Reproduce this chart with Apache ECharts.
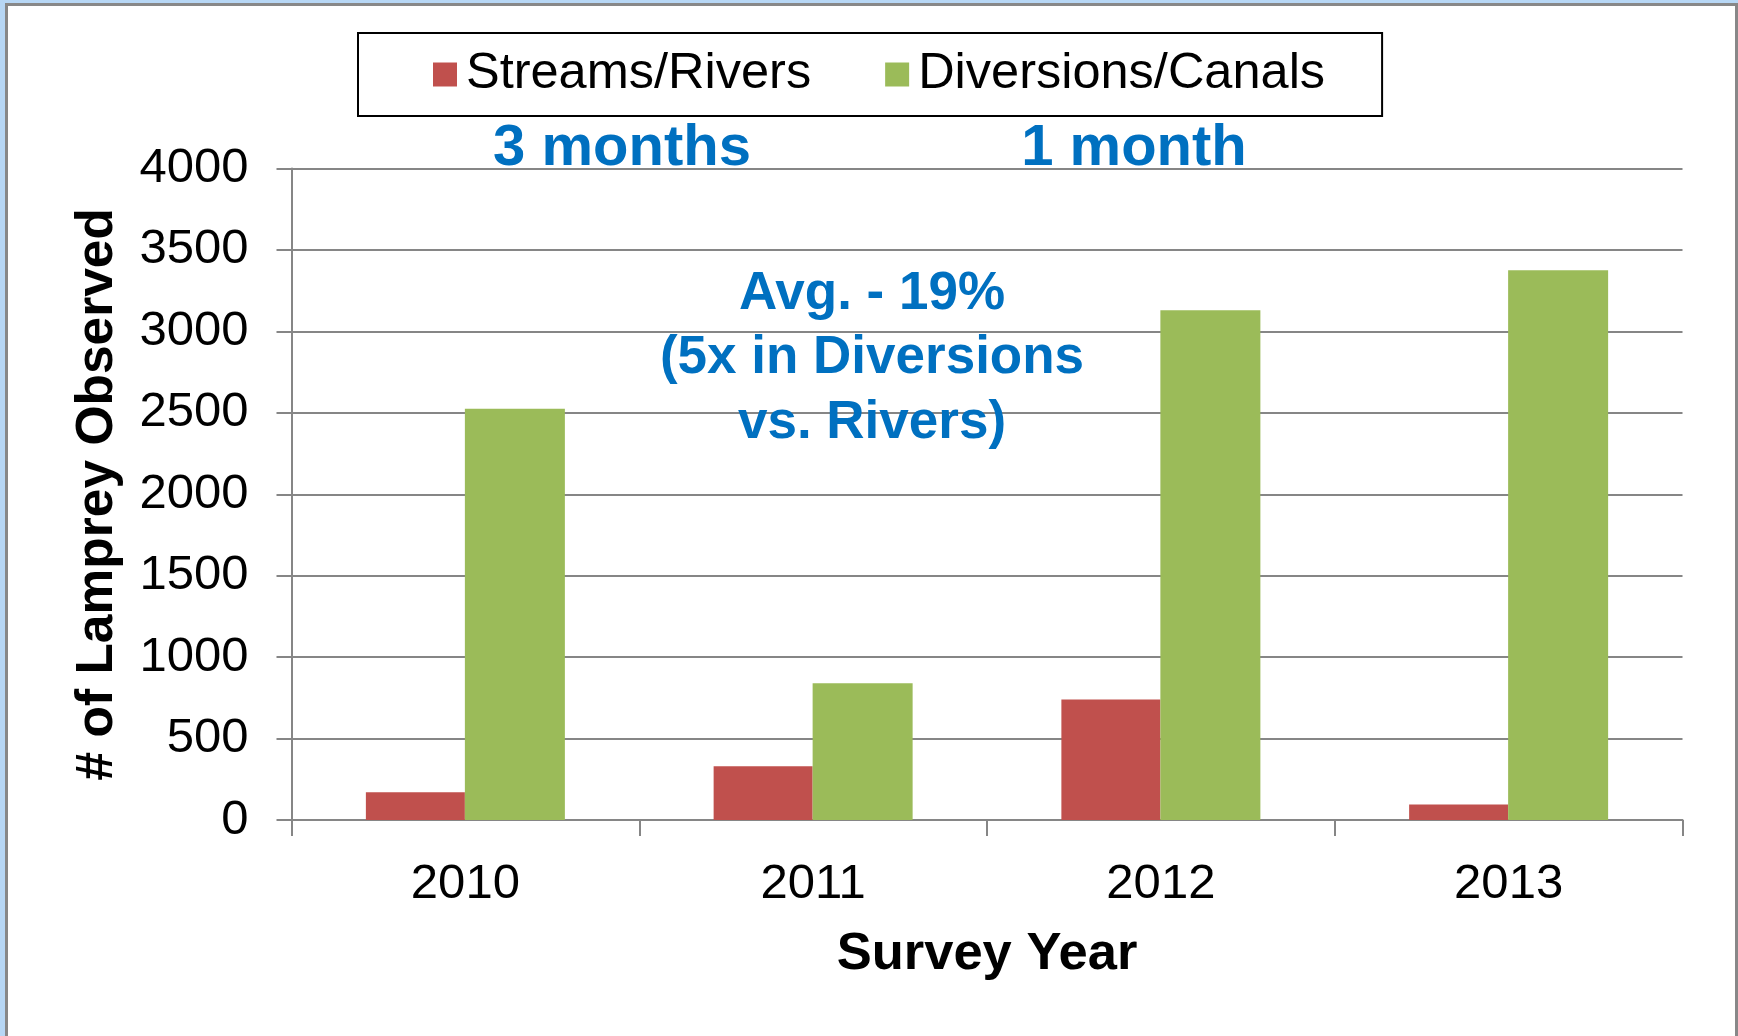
<!DOCTYPE html>
<html>
<head>
<meta charset="utf-8">
<title>Lamprey Observed by Survey Year</title>
<script src="https://cdn.jsdelivr.net/npm/echarts@6/dist/echarts.min.js"></script>
<style>
  html, body { margin: 0; padding: 0; background: #B7D7F5; }
  #chart { width: 1738px; height: 1036px; }
</style>
</head>
<body>
<div id="chart"></div>
<script>
// Survey data: lamprey counts per habitat type
const years = ['2010', '2011', '2012', '2013'];
const seriesNames = ['Streams/Rivers', 'Diversions/Canals'];
const streamsRivers = [170, 330, 740, 95];
const diversionsCanals = [2525, 840, 3130, 3375];
const yTicks = { min: 0, max: 4000, interval: 500 };

// Annotation text
const noteThreeMonths = '3 months';
const noteOneMonth = '1 month';
const noteAverage = ['Avg. - 19%', '(5x in Diversions', 'vs. Rivers)'];

const FONT = '"Liberation Sans", Arial, Helvetica, sans-serif';
const GRID_GRAY = '#868686';
const NOTE_BLUE = '#0070C0';

const chart = echarts.init(document.getElementById('chart'), null, { renderer: 'canvas' });

const option = {
  backgroundColor: '#B7D7F5',
  animation: false,
  textStyle: { fontFamily: FONT },
  graphic: [
    {
      type: 'rect',
      z: -10,
      silent: true,
      shape: { x: 6.5, y: 4.5, width: 1730, height: 1060 },
      style: { fill: '#ffffff', stroke: '#888888', lineWidth: 3 }
    },
    {
      type: 'text',
      z: 100,
      style: {
        text: noteThreeMonths, x: 622, y: 149,
        align: 'center', verticalAlign: 'middle',
        fill: NOTE_BLUE, fontSize: 58, fontWeight: 'bold', fontFamily: FONT
      }
    },
    {
      type: 'text',
      z: 100,
      style: {
        text: noteOneMonth, x: 1134, y: 149,
        align: 'center', verticalAlign: 'middle',
        fill: NOTE_BLUE, fontSize: 58, fontWeight: 'bold', fontFamily: FONT
      }
    },
    {
      type: 'text',
      z: 100,
      style: {
        text: noteAverage.join('\n'), x: 872, y: 358.5,
        align: 'center', verticalAlign: 'middle', lineHeight: 64.5,
        fill: NOTE_BLUE, fontSize: 53, fontWeight: 'bold', fontFamily: FONT
      }
    }
  ],
  legend: {
    data: seriesNames,
    left: 358,
    top: 33,
    orient: 'horizontal',
    icon: 'rect',
    itemWidth: 24,
    itemHeight: 24,
    itemGap: 74,
    padding: [16, 57, 16, 75],
    borderColor: '#000000',
    borderWidth: 2,
    backgroundColor: '#ffffff',
    textStyle: { fontSize: 50.5, color: '#000000', fontFamily: FONT, lineHeight: 51, padding: [0, 0, 0, 4] }
  },
  grid: {
    left: 291.5,
    right: 55.5,
    top: 168.5,
    bottom: 216
  },
  xAxis: {
    type: 'category',
    data: years,
    name: 'Survey Year',
    nameLocation: 'middle',
    nameGap: 108,
    nameTextStyle: { fontSize: 52.5, fontWeight: 'bold', color: '#000000', fontFamily: FONT },
    axisLine: { show: true, lineStyle: { color: GRID_GRAY, width: 2 } },
    axisTick: { show: true, length: 16, lineStyle: { color: GRID_GRAY, width: 2 } },
    axisLabel: { fontSize: 49, color: '#000000', margin: 40, fontFamily: FONT },
    splitLine: { show: false }
  },
  yAxis: {
    type: 'value',
    min: yTicks.min,
    max: yTicks.max,
    interval: yTicks.interval,
    name: '# of Lamprey Observed',
    nameLocation: 'middle',
    nameRotate: 90,
    nameGap: 168,
    nameTextStyle: { fontSize: 51.5, fontWeight: 'bold', color: '#000000', fontFamily: FONT },
    axisLine: { show: true, lineStyle: { color: GRID_GRAY, width: 2 } },
    axisTick: { show: true, length: 15, lineStyle: { color: GRID_GRAY, width: 2 } },
    axisLabel: {
      fontSize: 49, color: '#000000', margin: 43, fontFamily: FONT,
      formatter: function (v) { return String(v); }
    },
    splitLine: { show: true, lineStyle: { color: GRID_GRAY, width: 2 } }
  },
  series: [
    {
      name: seriesNames[0],
      type: 'bar',
      data: streamsRivers,
      barWidth: 99,
      barGap: '0%',
      itemStyle: { color: '#C0504D' }
    },
    {
      name: seriesNames[1],
      type: 'bar',
      data: diversionsCanals,
      barWidth: 100,
      barGap: '0%',
      itemStyle: { color: '#9BBB59' }
    }
  ]
};

chart.setOption(option);
</script>
</body>
</html>
